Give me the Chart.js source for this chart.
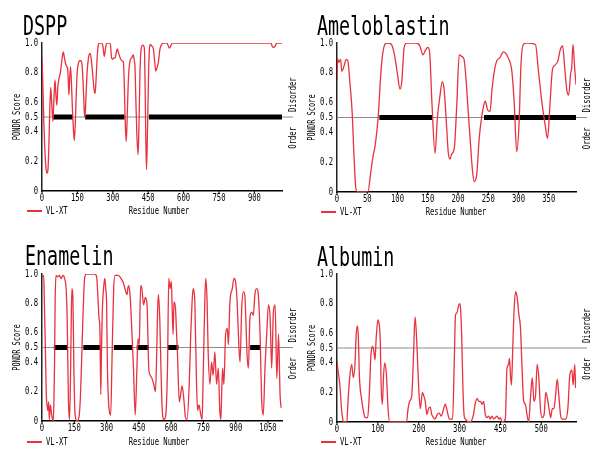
<!DOCTYPE html>
<html>
<head>
<meta charset="utf-8">
<script src="https://cdn.jsdelivr.net/npm/chart.js@4.4.0/dist/chart.umd.min.js"></script>
<style>
  html, body { margin: 0; padding: 0; background: #fff; }
  #wrap { position: relative; width: 601px; height: 453px; }
  canvas { position: absolute; }
</style>
</head>
<body>
<div id="wrap">
  <canvas id="dspp" width="300" height="226" style="left:0;top:0"></canvas>
  <canvas id="ambn" width="301" height="226" style="left:300px;top:0"></canvas>
  <canvas id="enam" width="300" height="227" style="left:0;top:226px"></canvas>
  <canvas id="alb" width="301" height="227" style="left:300px;top:226px"></canvas>
</div>
<script>
// PONDR VL-XT scores (residue, score)
const dsppRes = [0, 4, 8, 12, 16, 21, 25, 29, 33, 37, 41, 46, 50, 55, 59, 63, 67, 72, 78, 84, 90, 95, 100, 105, 109, 112, 114, 117, 121, 125, 129, 133, 137, 141, 145, 149, 154, 160, 165, 168, 172, 176, 180, 182, 186, 191, 197, 203, 208, 213, 218, 222, 225, 229, 233, 236, 239, 245, 253, 258, 264, 269, 274, 282, 289, 295, 300, 305, 310, 314, 319, 325, 331, 338, 345, 349, 353, 357, 361, 366, 373, 380, 387, 391, 394, 398, 402, 407, 411, 415, 418, 422, 428, 434, 437, 440, 443, 447, 451, 455, 458, 465, 472, 477, 482, 487, 493, 500, 507, 515, 528, 534, 540, 547, 554, 970, 976, 982, 988, 995, 1017];
const dsppScore = [0.9, 0.7, 0.45, 0.28, 0.17, 0.12, 0.14, 0.3, 0.55, 0.7, 0.6, 0.47, 0.6, 0.75, 0.65, 0.58, 0.7, 0.76, 0.8, 0.88, 0.94, 0.9, 0.86, 0.84, 0.82, 0.72, 0.65, 0.75, 0.84, 0.72, 0.55, 0.42, 0.34, 0.45, 0.65, 0.8, 0.86, 0.88, 0.88, 0.87, 0.8, 0.66, 0.52, 0.5, 0.62, 0.8, 0.9, 0.93, 0.9, 0.82, 0.73, 0.67, 0.66, 0.75, 0.88, 0.95, 0.99, 1, 1, 0.98, 0.91, 0.96, 1, 1, 1, 0.9, 0.89, 0.9, 0.9, 0.93, 0.96, 0.93, 0.9, 0.88, 0.87, 0.7, 0.45, 0.335, 0.5, 0.75, 0.88, 0.9, 0.92, 0.88, 0.84, 0.6, 0.38, 0.245, 0.45, 0.78, 0.92, 0.975, 0.985, 0.96, 0.7, 0.35, 0.145, 0.4, 0.75, 0.95, 0.99, 0.98, 0.96, 0.88, 0.81, 0.83, 0.87, 0.96, 0.99, 1, 1, 0.985, 0.965, 0.985, 1, 1, 0.975, 0.97, 0.98, 1, 1];
const dsppBars = [[47, 131], [183, 350], [453, 1017]];
const dsppLength = 1017;
const dsppTicks = [0, 150, 300, 450, 600, 750, 900];
const dsppTickLabels = ['0', '150', '300', '450', '600', '750', '900'];

const ambnRes = [0, 1, 3, 6, 8, 12, 15, 18, 21, 25, 28, 31, 34, 51, 56, 60, 63, 68, 72, 75, 79, 83, 90, 95, 100, 104, 107, 111, 115, 131, 137, 142, 146, 150, 153, 157, 162, 166, 170, 174, 177, 181, 184, 187, 189, 194, 198, 202, 206, 210, 213, 216, 220, 224, 227, 231, 235, 239, 243, 245, 249, 253, 256, 260, 264, 269, 275, 279, 283, 289, 293, 297, 301, 304, 308, 313, 328, 333, 339, 344, 348, 352, 356, 360, 365, 369, 373, 376, 380, 383, 386, 388, 390, 393, 395];
const ambnScore = [0.75, 0.895, 0.87, 0.89, 0.81, 0.85, 0.89, 0.88, 0.75, 0.54, 0.25, 0.03, 0, 0, 0.14, 0.25, 0.31, 0.5, 0.77, 0.91, 0.99, 1, 0.99, 0.92, 0.79, 0.69, 0.74, 0.97, 1, 1, 0.98, 0.92, 0.95, 0.97, 0.94, 0.59, 0.26, 0.5, 0.64, 0.74, 0.69, 0.45, 0.26, 0.22, 0.25, 0.3, 0.59, 0.92, 0.91, 0.89, 0.77, 0.59, 0.36, 0.14, 0.07, 0.12, 0.36, 0.5, 0.59, 0.61, 0.55, 0.54, 0.68, 0.81, 0.88, 0.9, 0.94, 0.93, 0.9, 0.81, 0.59, 0.27, 0.47, 0.85, 0.99, 1, 0.99, 0.81, 0.59, 0.45, 0.36, 0.59, 0.82, 0.85, 0.88, 0.955, 0.98, 0.85, 0.68, 0.65, 0.79, 0.84, 0.99, 0.82, 0.72];
const ambnBars = [[70, 157], [243, 395]];
const ambnLength = 395;
const ambnTicks = [0, 50, 100, 150, 200, 250, 300, 350];
const ambnTickLabels = ['0', '50', '100', '150', '200', '250', '300', '350'];

const enamRes = [0, 8, 11, 16, 20, 24, 27, 31, 34, 39, 45, 51, 55, 58, 61, 65, 73, 81, 89, 97, 105, 112, 117, 120, 123, 128, 133, 136, 139, 143, 146, 148, 151, 154, 164, 173, 178, 183, 190, 198, 206, 245, 254, 261, 265, 269, 273, 276, 280, 287, 292, 296, 300, 304, 311, 319, 326, 333, 339, 355, 367, 378, 389, 395, 401, 409, 417, 425, 433, 441, 446, 452, 458, 464, 472, 480, 488, 496, 503, 511, 519, 527, 532, 537, 541, 547, 552, 558, 567, 575, 583, 589, 595, 601, 605, 609, 613, 620, 625, 629, 638, 644, 651, 660, 666, 674, 684, 691, 697, 702, 706, 710, 718, 723, 729, 738, 744, 748, 753, 757, 761, 767, 772, 780, 788, 795, 803, 811, 819, 826, 831, 835, 839, 845, 853, 861, 866, 873, 884, 892, 899, 905, 909, 915, 920, 928, 936, 943, 948, 952, 959, 966, 974, 982, 989, 997, 1005, 1013, 1021, 1028, 1036, 1044, 1052, 1060, 1067, 1075, 1083, 1091, 1099, 1106, 1111];
const enamScore = [0.98, 0.99, 0.81, 0.47, 0.18, 0.1, 0.07, 0.13, 0.01, 0.11, 0.04, 0, 0.1, 0.36, 0.81, 0.99, 0.98, 0.99, 0.97, 0.99, 0.97, 0.9, 0.7, 0.4, 0.13, 0.01, 0.36, 0.7, 0.9, 0.86, 0.6, 0.36, 0.15, 0.04, 0, 0.04, 0.15, 0.36, 0.7, 0.97, 1, 1, 0.98, 0.81, 0.7, 0.63, 0.18, 0.45, 0.74, 0.92, 0.97, 0.9, 0.81, 0.36, 0.09, 0.04, 0.47, 0.9, 0.99, 0.99, 0.97, 0.94, 0.88, 0.86, 0.92, 0.86, 0.63, 0.36, 0.04, 0.36, 0.56, 0.52, 0.92, 0.9, 0.79, 0.84, 0.79, 0.36, 0.31, 0.29, 0.25, 0.2, 0.4, 0.75, 0.86, 0.7, 0.4, 0.09, 0.01, 0.04, 0.36, 0.97, 0.9, 0.95, 0.75, 0.59, 0.81, 0.77, 0.6, 0.47, 0.13, 0.18, 0.24, 0.13, 0.03, 0.01, 0.25, 0.59, 0.8, 0.9, 0.88, 0.81, 0.25, 0.07, 0.11, 0.04, 0.01, 0.25, 0.59, 0.85, 0.97, 0.81, 0.47, 0.25, 0.4, 0.31, 0.47, 0.25, 0.36, 0.07, 0.01, 0.2, 0.36, 0.25, 0.59, 0.63, 0.52, 0.81, 0.9, 0.97, 0.95, 0.85, 0.72, 0.5, 0.4, 0.77, 0.88, 0.84, 0.65, 0.47, 0.36, 0.7, 0.74, 0.72, 0.86, 0.9, 0.86, 0.59, 0.13, 0.04, 0.36, 0.59, 0.79, 0.7, 0.36, 0.74, 0.79, 0.29, 0.59, 0.18, 0.09];
const enamBars = [[55, 118], [192, 272], [334, 419], [440, 497], [585, 634], [967, 1017]];
const enamLength = 1115;
const enamTicks = [0, 150, 300, 450, 600, 750, 900, 1050];
const enamTickLabels = ['0', '150', '300', '450', '600', '750', '900', '1050'];

const albRes = [0, 2, 7, 11, 14, 17, 24, 27, 31, 36, 38, 40, 44, 47, 50, 52, 55, 60, 65, 69, 75, 79, 83, 87, 90, 93, 96, 100, 102, 106, 108, 111, 114, 117, 121, 125, 129, 170, 174, 178, 183, 187, 191, 194, 198, 201, 204, 209, 212, 216, 220, 224, 228, 232, 236, 240, 245, 250, 255, 261, 265, 270, 275, 283, 287, 290, 294, 297, 300, 302, 305, 308, 311, 314, 326, 334, 338, 343, 347, 351, 355, 359, 363, 367, 371, 375, 379, 384, 388, 392, 396, 400, 404, 412, 416, 420, 422, 425, 427, 430, 433, 437, 441, 445, 449, 453, 457, 461, 465, 469, 474, 478, 482, 486, 490, 494, 498, 502, 507, 511, 515, 519, 523, 527, 531, 535, 539, 543, 547, 551, 560, 565, 570, 575, 578, 582, 584];
const albScore = [0.41, 0.36, 0.25, 0.09, 0.02, 0, 0, 0.14, 0.3, 0.39, 0.34, 0.3, 0.39, 0.59, 0.65, 0.59, 0.3, 0.16, 0.07, 0.03, 0.03, 0.18, 0.45, 0.51, 0.48, 0.42, 0.57, 0.69, 0.68, 0.54, 0.25, 0.12, 0.32, 0.4, 0.32, 0.09, 0, 0, 0.09, 0.14, 0.18, 0.43, 0.71, 0.61, 0.36, 0.18, 0.09, 0.2, 0.18, 0.14, 0.05, 0.09, 0.1, 0.05, 0.03, 0.02, 0.05, 0.06, 0.04, 0.09, 0.12, 0.07, 0.02, 0.02, 0.4, 0.72, 0.74, 0.78, 0.8, 0.78, 0.6, 0.25, 0.05, 0.02, 0, 0.05, 0.12, 0.16, 0.14, 0.14, 0.12, 0.14, 0.05, 0.03, 0.04, 0.02, 0.04, 0.02, 0.03, 0.04, 0.02, 0.03, 0, 0.02, 0.36, 0.39, 0.43, 0.3, 0.25, 0.48, 0.73, 0.88, 0.84, 0.73, 0.64, 0.36, 0.14, 0.12, 0.05, 0, 0.18, 0.3, 0.14, 0.18, 0.39, 0.3, 0.09, 0.03, 0.05, 0.2, 0.16, 0.09, 0.03, 0.09, 0.09, 0.18, 0.29, 0.18, 0.05, 0.02, 0.02, 0.09, 0.32, 0.35, 0.25, 0.39, 0.23];
const albBars = [];
const albLength = 585;
const albTicks = [0, 100, 200, 300, 400, 500];
const albTickLabels = ['0', '100', '200', '300', '450', '500'];

const scoreTicks = [0, 0.2, 0.4, 0.5, 0.6, 0.8, 1];
const scoreTickLabels = ['0', '0.2', '0.4', '0.5', '0.6', '0.8', '1.0'];

const RED = '#e8323f';
const FONT = '"DejaVu Sans Mono", monospace';

// draws narrow, gothic-looking text (squeezed along its own direction)
function narrowText(ctx, text, x, y, size, align, baseline, squeeze, angle) {
    ctx.save();
    ctx.translate(x, y);
    if (angle) ctx.rotate(angle);
    ctx.scale(squeeze, 1);
    ctx.font = size + 'px ' + FONT;
    ctx.textAlign = align;
    ctx.textBaseline = baseline;
    ctx.fillStyle = '#000';
    ctx.fillText(text, 0, 0);
    ctx.restore();
}

const panelDecor = {
    id: 'panelDecor',
    beforeDatasetsDraw(chart, args, o) {
        const {ctx, chartArea, scales: {y}} = chart;
        const y5 = y.getPixelForValue(0.5);
        ctx.save();
        ctx.strokeStyle = '#8c8c8c';
        ctx.lineWidth = 1;
        ctx.beginPath();
        ctx.moveTo(chartArea.left, y5);
        ctx.lineTo(chartArea.right + 11, y5);
        ctx.stroke();
        ctx.restore();
    },
    afterDraw(chart, args, o) {
        const {ctx, chartArea, scales: {x, y}} = chart;
        const y5 = y.getPixelForValue(0.5);
        const s = 0.72;

        narrowText(ctx, o.title, o.titleX, o.titleY, 27, 'left', 'alphabetic', 0.68);

        y.ticks.forEach((t, i) => {
            narrowText(ctx, scoreTickLabels[i], chartArea.left - 4, y.getPixelForValue(t.value), 10, 'right', 'middle', s);
        });
        ctx.save();
        ctx.strokeStyle = '#000';
        ctx.lineWidth = 1;
        x.ticks.forEach((t, i) => {
            const px = x.getPixelForValue(t.value);
            ctx.beginPath();
            ctx.moveTo(px, chartArea.bottom);
            ctx.lineTo(px, chartArea.bottom + 2);
            ctx.stroke();
            narrowText(ctx, o.tickLabels[i], px, chartArea.bottom + 7, 10, 'center', 'middle', s);
        });
        ctx.restore();

        narrowText(ctx, 'PONDR Score', chartArea.left - 25, y5, 10, 'center', 'middle', 0.7, -Math.PI / 2);
        narrowText(ctx, 'Disorder', chartArea.right + 11, y5 - 5, 10, 'left', 'middle', 0.72, -Math.PI / 2);
        narrowText(ctx, 'Order', chartArea.right + 11, y5 + 10, 10, 'right', 'middle', 0.72, -Math.PI / 2);

        // legend + axis title row
        ctx.save();
        ctx.strokeStyle = RED;
        ctx.lineWidth = 2;
        ctx.beginPath();
        ctx.moveTo(o.legendX, o.legendY);
        ctx.lineTo(o.legendX + 15, o.legendY);
        ctx.stroke();
        ctx.restore();
        narrowText(ctx, 'VL-XT', o.legendX + 19, o.legendY, 10, 'left', 'middle', s);
        narrowText(ctx, 'Residue Number', o.axisTitleX, o.legendY, 10, 'center', 'middle', s);
    }
};

function makeChart(p) {
    const canvas = document.getElementById(p.id);
    const W = canvas.width, H = canvas.height;
    const curve = p.res.map((r, i) => ({x: r, y: p.score[i]}));
    const bar = [];
    p.bars.forEach(([a, b]) => {
        bar.push({x: a, y: 0.5}, {x: b, y: 0.5}, {x: b, y: null});
    });

    return new Chart(canvas, {
        type: 'line',
        data: {
            datasets: [
                {
                    data: curve,
                    borderColor: RED,
                    borderWidth: 1.3,
                    pointRadius: 0,
                    cubicInterpolationMode: 'monotone',
                    order: 0
                },
                {
                    data: bar,
                    borderColor: '#000',
                    borderWidth: 5,
                    borderCapStyle: 'butt',
                    pointRadius: 0,
                    spanGaps: false,
                    order: 1
                }
            ]
        },
        options: {
            responsive: false,
            animation: false,
            devicePixelRatio: 1,
            events: [],
            layout: {
                padding: {left: 0, top: p.box.top, right: W - p.box.right, bottom: 0}
            },
            plugins: {
                legend: {display: false},
                tooltip: {enabled: false},
                panelDecor: {
                    title: p.title,
                    titleX: p.box.titleX,
                    titleY: p.box.titleY,
                    tickLabels: p.tickLabels,
                    legendX: p.box.legendX,
                    legendY: p.box.legendY,
                    axisTitleX: p.box.axisTitleX
                }
            },
            scales: {
                x: {
                    type: 'linear',
                    min: 0,
                    max: p.length,
                    grid: {display: false},
                    border: {display: true, color: '#000', width: 1.5},
                    ticks: {display: false},
                    afterBuildTicks: s => { s.ticks = p.ticks.map(v => ({value: v})); },
                    afterFit: s => { s.height = H - p.box.bottom; }
                },
                y: {
                    min: 0,
                    max: 1,
                    grid: {display: false},
                    border: {display: true, color: '#222', width: 1.5},
                    ticks: {display: false},
                    afterBuildTicks: s => { s.ticks = scoreTicks.map(v => ({value: v})); },
                    afterFit: s => { s.width = p.box.left; }
                }
            }
        },
        plugins: [panelDecor]
    });
}

makeChart({id: 'dspp', title: 'DSPP', res: dsppRes, score: dsppScore, bars: dsppBars, length: dsppLength,
    ticks: dsppTicks, tickLabels: dsppTickLabels,
    box: {left: 42, top: 43, right: 282, bottom: 191, titleX: 23, titleY: 35, legendX: 27, legendY: 211, axisTitleX: 159}});
makeChart({id: 'ambn', title: 'Ameloblastin', res: ambnRes, score: ambnScore, bars: ambnBars, length: ambnLength,
    ticks: ambnTicks, tickLabels: ambnTickLabels,
    box: {left: 37, top: 43, right: 276, bottom: 192, titleX: 17, titleY: 35, legendX: 21, legendY: 212, axisTitleX: 156}});
makeChart({id: 'enam', title: 'Enamelin', res: enamRes, score: enamScore, bars: enamBars, length: enamLength,
    ticks: enamTicks, tickLabels: enamTickLabels,
    box: {left: 42, top: 48, right: 282, bottom: 195, titleX: 25, titleY: 39, legendX: 27, legendY: 216, axisTitleX: 159}});
makeChart({id: 'alb', title: 'Albumin', res: albRes, score: albScore, bars: albBars, length: albLength,
    ticks: albTicks, tickLabels: albTickLabels,
    box: {left: 37, top: 48, right: 276, bottom: 196, titleX: 17, titleY: 40, legendX: 21, legendY: 216, axisTitleX: 156}});
</script>
</body>
</html>
